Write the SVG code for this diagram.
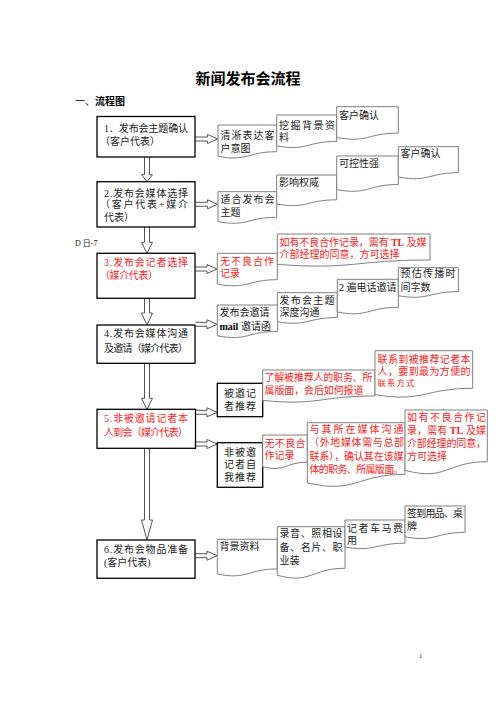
<svg xmlns="http://www.w3.org/2000/svg" width="496" height="702" viewBox="0 0 496 702">
<style>
text{font-family:"Liberation Serif","Noto Sans CJK SC",serif;font-size:10px;fill:#222}
.r{fill:#ff2020}
.b{font-weight:bold}
.ttl{font-family:"Noto Sans CJK SC","Liberation Sans",sans-serif;font-size:15px;font-weight:bold;fill:#000}
.h{font-family:"Noto Sans CJK SC","Liberation Sans",sans-serif;font-size:10px;fill:#000}
.box{fill:#fff;stroke:#000;stroke-width:1.3}
.doc{fill:#fff;stroke:#7f7f7f;stroke-width:1}
.arr{fill:#fff;stroke:#555;stroke-width:1;stroke-linejoin:miter}
</style>
<rect width="496" height="702" fill="#fff"/>
<text class="ttl" x="248" y="83.5" text-anchor="middle">新闻发布会流程</text>
<text class="h" x="75" y="104.5">一、</text>
<text class="h b" x="95" y="104.5">流程图</text>
<text x="75" y="245.5" style="font-size:8px">D 日-7</text>

<g id="connectors">
<path class="arr" d="M144.5,157 V174.7 H141.5 L147,181.7 L152.5,174.7 H149.5 V157"/>
<path class="arr" d="M144.5,227 V242.3 H141.5 L147,253.3 L152.5,242.3 H149.5 V227"/>
<path class="arr" d="M144.5,298.3 V313 H141.5 L147,325 L152.5,313 H149.5 V298.3"/>
<path class="arr" d="M144.5,363.3 V398.3 H141.5 L147,409.3 L152.5,398.3 H149.5 V363.3"/>
<path class="arr" d="M144.5,448.3 V520 H141.5 L147,540 L152.5,520 H149.5 V448.3"/>
<path class="arr" d="M195.5,137 H207.5 V134.5 L217.5,139 L207.5,143.5 V141 H195.5"/>
<path class="arr" d="M195.5,202.3 H207.5 V199.8 L217.5,204.3 L207.5,208.8 V206.3 H195.5"/>
<path class="arr" d="M195.5,267 H207 V264.5 L217,269 L207,273.5 V271 H195.5"/>
<path class="arr" d="M195.5,322.3 H207 V319.8 L217,324.3 L207,328.8 V326.3 H195.5"/>
<path class="arr" d="M195.5,410.3 H207 V407.8 L217,412.3 L207,416.8 V414.3 H195.5"/>
<path class="arr" d="M195.5,442 H207 V439.5 L217,444 L207,448.5 V446 H195.5"/>
<path class="arr" d="M195.5,553.7 H207 V551.2 L217,555.7 L207,560.2 V557.7 H195.5"/>
</g>

<g id="n1"><rect class="box" x="97" y="116.5" width="98" height="40.5"/>
<text x="104" y="132" textLength="84" lengthAdjust="spacing">1．发布会主题确认</text>
<text x="100" y="144.5">（客户代表）</text></g>
<g id="n2"><rect class="box" x="97" y="181.7" width="98" height="45.3"/>
<text x="104" y="196.5" textLength="84" lengthAdjust="spacing">2.发布会媒体选择</text>
<text x="100" y="208.3" textLength="88" lengthAdjust="spacing">（客户代表+媒介</text>
<text x="104" y="220.7">代表）</text></g>
<g id="n3"><rect class="box" x="97" y="253.3" width="98" height="45"/>
<text class="r" x="104" y="265.5" textLength="84" lengthAdjust="spacing">3.发布会记者选择</text>
<text class="r" x="100" y="279" textLength="58" lengthAdjust="spacing">（媒介代表）</text></g>
<g id="n4"><rect class="box" x="97" y="325" width="98" height="38.3"/>
<text x="104" y="337" textLength="84" lengthAdjust="spacing">4.发布会媒体沟通</text>
<text x="104" y="351.5" textLength="84" lengthAdjust="spacing">及邀请（媒介代表）</text></g>
<g id="n5"><rect class="box" x="97" y="409.3" width="98.5" height="39"/>
<text class="r" x="104" y="422" textLength="84" lengthAdjust="spacing">5.非被邀请记者本</text>
<text class="r" x="104" y="435.5" textLength="84" lengthAdjust="spacing">人到会（媒介代表）</text></g>
<g id="n6"><rect class="box" x="97" y="540" width="98" height="38.3"/>
<text x="104" y="553" textLength="84" lengthAdjust="spacing">6.发布会物品准备</text>
<text x="104" y="565.5">(客户代表)</text></g>

<g id="d1"><path class="doc" d="M218,125 H276.7 V151.7 C247.4,151.7 247.4,162 218,156.2 Z"/>
<text x="220.5" y="139" textLength="54" lengthAdjust="spacing">清淅表达客</text>
<text x="220.5" y="151.5">户意图</text></g>
<g id="d2"><path class="doc" d="M276.7,115 H336.7 V141.4 C306.7,141.4 306.7,151.5 276.7,145.8 Z"/>
<text x="279" y="129" textLength="56" lengthAdjust="spacing">挖掘背景资</text>
<text x="279" y="140.5">料</text></g>
<g id="d3"><path class="doc" d="M336.7,106.7 H398.3 V133.1 C367.5,133.1 367.5,143.2 336.7,137.5 Z"/>
<text x="339" y="119">客户确认</text></g>
<g id="d4"><path class="doc" d="M218,191.7 H276.7 V217.3 C247.4,217.3 247.4,227.1 218,221.6 Z"/>
<text x="220.5" y="203" textLength="54" lengthAdjust="spacing">适合发布会</text>
<text x="220.5" y="215.5">主题</text></g>
<g id="d5"><path class="doc" d="M276.7,175 H336.7 V199.8 C306.7,199.8 306.7,209.3 276.7,204 Z"/>
<text x="279" y="185.5">影响权威</text></g>
<g id="d6"><path class="doc" d="M336.7,156 H398.3 V184.5 C367.5,184.5 367.5,195.4 336.7,189.6 Z"/>
<text x="339" y="167">可控性强</text></g>
<g id="d7"><path class="doc" d="M398.3,146.7 H458.3 V172.7 C428.3,172.7 428.3,182.7 398.3,177 Z"/>
<text x="400.5" y="157">客户确认</text></g>
<g id="d8"><path class="doc" d="M217.3,253.3 H277.3 V279.7 C247.3,279.7 247.3,289.8 217.3,284.1 Z"/>
<text class="r" x="220" y="264.5" textLength="54" lengthAdjust="spacing">无不良合作</text>
<text class="r" x="220" y="276.5">记录</text></g>
<g id="d9"><path class="doc" d="M277.3,234 H430 V260 C353.7,260 353.7,270 277.3,264.4 Z"/>
<text class="r" x="279.5" y="246" textLength="147" lengthAdjust="spacing">如有不良合作记录，需有 <tspan class="b">TL</tspan> 及媒</text>
<text class="r" x="279.5" y="258">介部经理的同意，方可选择</text></g>
<g id="d10"><path class="doc" d="M217.3,305 H277.7 V331.4 C247.5,331.4 247.5,341.5 217.3,335.8 Z"/>
<text x="219.5" y="316">发布会邀请</text>
<text x="219.5" y="329.5"><tspan class="b" style="fill:#000">mail</tspan> 邀请函</text></g>
<g id="d11"><path class="doc" d="M277.3,292.7 H337.3 V317.5 C307.3,317.5 307.3,327 277.3,321.7 Z"/>
<text x="279.5" y="304" textLength="55" lengthAdjust="spacing">发布会主题</text>
<text x="279.5" y="316">深度沟通</text></g>
<g id="d12"><path class="doc" d="M337.3,279.3 H398.3 V307.3 C367.8,307.3 367.8,318 337.3,312 Z"/>
<text x="339" y="290.5"><tspan style="fill:#000">2</tspan> 遍电话邀请</text></g>
<g id="d13"><path class="doc" d="M398.3,267.7 H458.3 V291.7 C428.3,291.7 428.3,300.9 398.3,295.7 Z"/>
<text x="400.5" y="277" textLength="55" lengthAdjust="spacing">预估传播时</text>
<text x="400.5" y="290.5">间字数</text></g>

<g id="s1"><rect class="box" x="217.3" y="383.3" width="45.4" height="33.4"/>
<text x="224" y="397" textLength="32" lengthAdjust="spacing">被邀记</text>
<text x="224" y="409.5" textLength="32" lengthAdjust="spacing">者推荐</text></g>
<g id="s2"><rect class="box" x="217.3" y="442.7" width="45.4" height="44.6"/>
<text x="224" y="456" textLength="32" lengthAdjust="spacing">非被邀</text>
<text x="224" y="468" textLength="32" lengthAdjust="spacing">记者自</text>
<text x="224" y="480.5" textLength="32" lengthAdjust="spacing">我推荐</text></g>

<g id="d14"><path class="doc" d="M262.7,370 H375 V396 C318.9,396 318.9,406 262.7,400.4 Z"/>
<text class="r" x="264.5" y="381" textLength="108" lengthAdjust="spacing">了解被推荐人的职务、所</text>
<text class="r" x="264.5" y="394" textLength="99" lengthAdjust="spacing">属版面，会后如何报道</text></g>
<g id="d15"><path class="doc" d="M375,350.7 H472.7 V388.3 C423.9,388.3 423.9,402.7 375,394.6 Z"/>
<text class="r" x="377.5" y="363" textLength="93" lengthAdjust="spacing">联系到被推荐记者本</text>
<text class="r" x="377.5" y="375" textLength="93" lengthAdjust="spacing">人，要到最为方便的</text>
<text class="r" x="377.5" y="386" style="font-size:8.5px" textLength="37" lengthAdjust="spacing">联系方式</text></g>
<g id="d16"><path class="doc" d="M262.7,435 H307.3 V462.2 C285,462.2 285,472.6 262.7,466.8 Z"/>
<text class="r" x="264.5" y="446.5" textLength="41" lengthAdjust="spacing">无不良合</text>
<text class="r" x="264.5" y="459">作记录</text></g>
<g id="d17"><path class="doc" d="M307.3,422.7 H405 V474.3 C356.2,474.3 356.2,494.1 307.3,482.9 Z"/>
<text class="r" x="309.5" y="433" textLength="94" lengthAdjust="spacing">与其所在媒体沟通</text>
<text class="r" x="309" y="446" textLength="95" lengthAdjust="spacing">（外地媒体需与总部</text>
<text class="r" x="309.5" y="459.5" textLength="94" lengthAdjust="spacing">联系），确认其在该媒</text>
<text class="r" x="309.5" y="473" textLength="94" lengthAdjust="spacing">体的职务、所属版面。</text></g>
<g id="d18"><path class="doc" d="M405,410 H487.3 V461.7 C446.2,461.7 446.2,481.5 405,470.3 Z"/>
<text class="r" x="407" y="420.5" textLength="79" lengthAdjust="spacing">如有不良合作记</text>
<text class="r" x="407" y="434" textLength="79" lengthAdjust="spacing">录，需有 <tspan class="b">TL</tspan> 及媒</text>
<text class="r" x="407" y="447" textLength="79" lengthAdjust="spacing">介部经理的同意，</text>
<text class="r" x="407" y="459.5">方可选择</text></g>

<g id="d19"><path class="doc" d="M217.3,539.3 H277.3 V568.9 C247.3,568.9 247.3,580.3 217.3,573.9 Z"/>
<text x="219.5" y="549.5">背景资料</text></g>
<g id="d20"><path class="doc" d="M277.3,526.7 H345 V568.3 C311.2,568.3 311.2,584.3 277.3,575.3 Z"/>
<text x="279.5" y="537" textLength="63" lengthAdjust="spacing">录音、照相设</text>
<text x="279.5" y="551" textLength="63" lengthAdjust="spacing">备、名片、职</text>
<text x="279.5" y="564">业装</text></g>
<g id="d21"><path class="doc" d="M345,520 H405 V543.2 C375,543.2 375,552.1 345,547.1 Z"/>
<text x="347" y="531.5" textLength="56" lengthAdjust="spacing">记者车马费</text>
<text x="347" y="544">用</text></g>
<g id="d22"><path class="doc" d="M405,506 H465 V532.4 C435,532.4 435,542.5 405,536.8 Z"/>
<text x="407" y="517" textLength="56" lengthAdjust="spacing">签到用品、桌</text>
<text x="407" y="530">牌</text></g>

<text x="419" y="658" style="font-size:7px">1</text>
</svg>
